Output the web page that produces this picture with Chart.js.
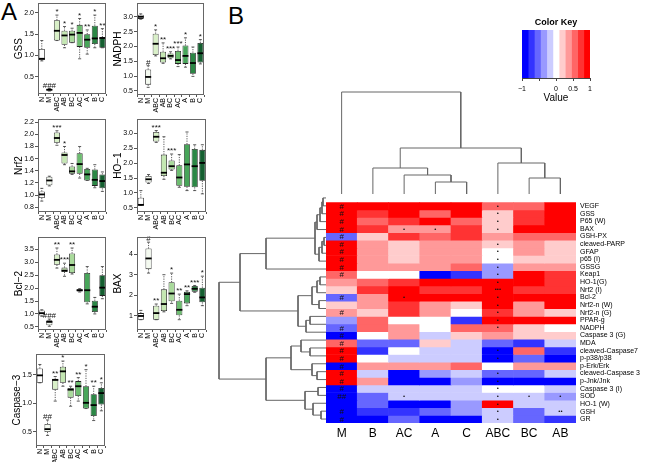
<!DOCTYPE html>
<html><head><meta charset="utf-8">
<script src="https://cdn.jsdelivr.net/npm/chart.js@4.4.1/dist/chart.umd.min.js"></script>
<style>
body{margin:0;width:650px;height:462px;background:#fff;position:relative;overflow:hidden;font-family:'Liberation Sans',Arial,sans-serif;}
.lab{position:absolute;font-size:24px;line-height:1;color:#000;}
</style></head><body>
<div class="lab" style="left:1px;top:0px">A</div>
<div class="lab" style="left:228px;top:4px">B</div>
<script>
// ---------------- DATA ----------------
const cats = ['N','M','ABC','AB','BC','AC','A','B','C'];
const boxFill = ['#ffffff','#f4faf0','#d9f0c8','#c4e7b2','#a9da9b','#6dbd70','#48a65a','#2b8745','#145f30'];

const gssLo  = [0.87,0.16,1.35,1.18,1.30,0.92,1.03,1.18,1.18];
const gssQ1  = [0.89,0.17,1.35,1.25,1.30,1.20,1.18,1.27,1.18];
const gssMed = [0.92,0.19,1.58,1.47,1.49,1.53,1.37,1.40,1.41];
const gssQ3  = [1.15,0.21,1.83,1.58,1.58,1.72,1.50,1.70,1.43];
const gssHi  = [1.35,0.22,1.95,1.68,1.64,1.87,1.60,1.95,1.63];
const gssSig = ['','###','*','*','*','*','**','*','**'];
const gssTicks = [0.5,1.0,1.5,2.0];

const nadLo  = [2.92,0.62,1.68,1.43,1.58,1.32,1.30,0.99,1.41];
const nadQ1  = [2.93,0.71,1.71,1.46,1.60,1.41,1.41,1.08,1.46];
const nadMed = [3.00,0.97,2.09,1.60,1.68,1.54,1.68,1.44,1.77];
const nadQ3  = [3.07,1.22,2.43,1.82,1.76,1.85,2.03,1.79,2.12];
const nadHi  = [3.10,1.35,2.56,2.12,1.82,1.98,2.29,1.98,2.23];
const nadSig = ['','#','*','**','***','***','*','','*'];
const nadTicks = [0.5,1.0,1.5,2.0,2.5,3.0];

const nrfLo  = [0.90,1.15,1.82,1.50,1.34,1.28,1.24,1.12,1.06];
const nrfQ1  = [0.95,1.16,1.86,1.52,1.35,1.35,1.24,1.15,1.11];
const nrfMed = [1.01,1.24,1.94,1.66,1.39,1.51,1.34,1.25,1.23];
const nrfQ3  = [1.06,1.30,2.03,1.70,1.47,1.69,1.43,1.42,1.34];
const nrfHi  = [1.11,1.31,2.06,1.80,1.52,1.80,1.44,1.50,1.38];
const nrfSig = ['','','***','*','','','','',''];
const nrfTicks = [0.8,1.0,1.2,1.4,1.6,1.8,2.0,2.2];

const hoLo  = [0.58,1.32,2.70,1.46,1.76,1.19,1.08,1.08,0.97];
const hoQ1  = [0.58,1.35,2.73,1.57,1.79,1.24,1.21,1.19,1.41];
const hoMed = [0.60,1.46,2.89,1.68,1.90,1.52,1.96,1.90,2.01];
const hoQ3  = [0.84,1.57,3.05,2.29,2.09,1.93,2.64,2.48,2.45];
const hoHi  = [1.08,1.62,3.10,2.89,2.31,2.29,3.05,2.62,2.62];
const hoSig = ['','','***','','***','','','',''];
const hoTicks = [0.5,1.0,1.5,2.0,2.5,3.0];

const bclLo  = [0.91,0.52,2.78,2.46,2.55,1.85,1.39,1.00,1.59];
const bclQ1  = [0.94,0.56,2.91,2.63,2.59,1.87,1.45,1.07,1.70];
const bclMed = [1.03,0.69,3.10,2.68,2.90,1.92,1.92,1.28,2.02];
const bclQ3  = [1.13,0.75,3.31,2.80,3.35,1.96,2.59,1.51,2.50];
const bclHi  = [1.16,0.80,3.56,2.97,3.56,1.98,2.84,1.64,2.84];
const bclSig = ['','###','**','***','**','','','',''];
const bclTicks = [0.5,1.0,1.5,2.0,2.5,3.0,3.5];

const baxLo  = [0.82,3.08,0.82,1.20,1.61,0.82,1.50,2.15,1.50];
const baxQ1  = [0.82,3.27,0.82,1.24,1.71,1.03,1.61,2.18,1.66];
const baxMed = [1.00,3.79,1.14,1.58,2.09,1.30,2.06,2.32,1.90];
const baxQ3  = [1.14,4.27,1.50,2.29,2.64,1.74,2.17,2.45,2.37];
const baxHi  = [1.27,4.58,1.58,3.00,3.08,2.06,2.22,2.48,2.93];
const baxSig = ['','#','**','','*','**','**','***','*'];
const baxTicks = [1,2,3,4];

const casLo  = [1.36,0.44,1.04,1.30,0.95,1.04,0.91,0.70,0.87];
const casQ1  = [1.36,0.50,1.24,1.36,1.10,1.13,0.91,0.78,0.98];
const casMed = [1.49,0.55,1.41,1.56,1.24,1.30,1.01,0.97,1.18];
const casQ3  = [1.61,0.64,1.43,1.64,1.27,1.39,1.30,1.16,1.27];
const casHi  = [1.68,0.71,1.47,1.74,1.30,1.45,1.59,1.30,1.36];
const casSig = ['','##','**','*','**','**','*','**','*'];
const casTicks = [0.5,1.0,1.5];

// heatmap
const hmCols = ['M','B','AC','A','C','ABC','BC','AB'];
const hmRows = ['VEGF','GSS','P65 (W)','BAX','GSH-PX','cleaved-PARP','GFAP','p65 (I)','GSSG','Keap1','HO-1(G)','Nrf2 (I)','Bcl-2','Nrf2-n (W)','Nrf2-n (G)','PPAR-g','NADPH','Caspase 3 (G)','MDA','cleaved-Caspase7','p-p38/p38','p-Erk/Erk','cleaved-Caspase 3','p-Jnk/Jnk','Caspase 3 (I)','SOD','HO-1 (W)','GSH','GR'];
const hmValues = [
 [1,1,1,1,1,0.6,0.6,1],
 [1,0.8,1,0.6,1,0.25,0.8,1],
 [1,0.6,0.8,1,0.6,0.25,0.8,1],
 [1,0.8,0.45,0.45,0.8,0.25,1,1],
 [-0.6,0.25,0.8,0.6,0.8,0.45,0.6,0.6],
 [1,0.45,0.25,0.45,0.45,0.25,0.45,0.25],
 [1,0.45,0.25,0.45,0.45,0,0.45,0.25],
 [1,0.45,0.25,0.45,0.45,0,0.25,0.25],
 [1,0.45,0.45,0.45,0.6,-0.45,0.45,0.45],
 [0.6,0,0,-1,-0.8,-0.45,1,0.8],
 [0.45,0.6,0.8,1,1,1,1,0.8],
 [0.25,0.8,1,0.8,0.8,1,0.8,0.8],
 [-0.6,0.45,1,1,1,1,1,1],
 [0.25,0.45,0.8,0.45,0.25,1,0.45,1],
 [0.45,0.25,0.8,0.45,0,0.8,0.45,0.25],
 [-0.45,0.6,0,0,-0.8,1,1,1],
 [-0.6,0.6,0.45,0,0.6,0.6,0.25,0],
 [-1,0,0.45,-0.25,0.25,0.45,0.25,0.25],
 [0.6,-0.6,-0.6,0.25,-0.25,-0.6,-0.8,-0.25],
 [1,-0.8,0,-0.25,-0.25,-1,0.6,-0.8],
 [1,0,-0.25,-0.25,-0.25,-1,-0.6,-1],
 [-1,0.45,0.45,0.45,0.6,0,0.45,0.45],
 [1,-0.25,-1,-0.45,-0.25,-0.6,-0.6,-0.25],
 [1,0.45,-1,-1,-0.45,-1,-1,-1],
 [-1,-0.25,-0.25,-0.25,-0.25,0,0,-0.25],
 [-1,-0.6,-0.25,-0.25,-0.25,-0.25,-0.25,-0.45],
 [-1,-0.6,-1,-1,-0.45,1,-0.25,-0.25],
 [-1,-0.8,-0.8,-0.6,-0.45,-0.25,-0.6,-0.25],
 [-1,-1,-0.6,-1,-1,-0.25,-0.6,-0.8]
];
const hmMarks = [
 ['#','','','','','•','',''],['#','','','','','•','',''],['#','','','','','•','',''],['#','','•','•','','•','',''],
 ['#','','','','','','',''],['#','','','','','•','',''],['#','','','','','•','',''],['#','','','','','•','',''],
 ['#','','','','','•','',''],['#','','','','','•','',''],['','','','','','•','',''],['','','','','','•••','',''],
 ['#','','•','','','•','',''],['','','','','','•','',''],['#','','','','','•','',''],['','','','','','•','',''],
 ['#','','','','','•','',''],['#','','','','','','',''],['#','','','','','','',''],['#','','','','','•','',''],
 ['#','','','','','•','',''],['#','','','','','','',''],['#','','','','','•','',''],['#','','','','','•','',''],
 ['#','','','','','•','',''],['##','','•','','','•','•','•'],['','','','','','•','',''],['#','','','','','•','','••'],
 ['#','','','','','•','','']
];
const keyColors = ['#0000ff','#3333ff','#6666ff','#9999ff','#ccccff','#ffffff','#ffcccc','#ff9999','#ff6666','#ff3333','#ff0000'];
const keyTicks = [-1,-0.5,0,0.5,1];
const keyTickLabels = ['\u22121','','0','0.5','1'];

// dendrograms (R hclust style: negative = leaf, positive = merge index)
const colMerge = [[-4,-5],[-3,1],[-2,2],[-7,-8],[-6,4],[3,5],[-1,6]];
const colHeight = [12,19,26,16,31,46,102];
const rowMerge = [[-1,-2],[1,-3],[2,-4],[-6,-7],[4,-8],[5,-9],[3,-5],[7,6],[8,-10],
  [-11,-12],[10,-13],[-14,-15],[11,12],[-16,-17],[14,-18],[13,15],[9,16],
  [-20,-21],[-19,18],[-23,-24],[-22,20],[19,21],[-25,-26],[-28,-29],[-27,24],[23,25],[22,26],[17,27]];
const rowHeight = [3,4,6,2,4,7,9,11,60,6,9,7,14,16,20,28,86,16,25,9,14,35,8,5,13,21,60,107];

// ---------------- HELPERS ----------------
const FONT = "'Liberation Sans', Arial, sans-serif";
Chart.defaults.font.family = FONT;
Chart.defaults.color = '#000';
function mk(l,t,w,h){const c=document.createElement('canvas');c.width=w;c.height=h;c.style.cssText=`position:absolute;left:${l}px;top:${t}px;width:${w}px;height:${h}px`;document.body.appendChild(c);return c;}
const framePlugin={id:'frame',afterDraw(ch){const a=ch.chartArea,c=ch.ctx;c.save();c.strokeStyle='#666';c.lineWidth=1;c.strokeRect(Math.round(a.left)+0.5,Math.round(a.top)+0.5,Math.round(a.right-a.left)-1,Math.round(a.bottom-a.top)-1);c.restore();}};

function boxChart(fr,title,lo,q1,med,q3,hi,sig,ticks,dec){
  const padL=40,padB=24,padT=3,padR=4;
  const cv=mk(fr.l-padL,fr.t-padT,fr.r-fr.l+padL+padR,fr.b-fr.t+padT+padB);
  const extras={id:'boxExtras',afterDatasetsDraw(ch){
    const c=ch.ctx,y=ch.scales.y,meta=ch.getDatasetMeta(0);
    c.save();
    meta.data.forEach((bar,i)=>{
      const cx=bar.x,w=bar.width;
      const yq1=y.getPixelForValue(q1[i]),yq3=y.getPixelForValue(q3[i]),ylo=y.getPixelForValue(lo[i]),yhi=y.getPixelForValue(hi[i]),ym=y.getPixelForValue(med[i]);
      c.strokeStyle='#333';c.lineWidth=0.8;c.setLineDash([1.2,1.2]);
      c.beginPath();c.moveTo(cx,yq3);c.lineTo(cx,yhi);c.moveTo(cx,yq1);c.lineTo(cx,ylo);c.stroke();
      c.setLineDash([]);
      c.beginPath();c.moveTo(cx-w/4,yhi);c.lineTo(cx+w/4,yhi);c.moveTo(cx-w/4,ylo);c.lineTo(cx+w/4,ylo);c.stroke();
      c.strokeStyle='#000';c.lineWidth=1.8;c.beginPath();c.moveTo(cx-w/2,ym);c.lineTo(cx+w/2,ym);c.stroke();
      if(sig[i]){c.fillStyle='#111';c.font='8px '+FONT;c.textAlign='center';c.textBaseline='bottom';c.fillText(sig[i],cx,yhi+1);}
    });
    c.restore();
  }};
  new Chart(cv,{type:'bar',
    data:{labels:cats,datasets:[{data:q1.map((v,i)=>[v,q3[i]]),backgroundColor:boxFill,borderColor:'#222',borderWidth:0.8,borderSkipped:false,barPercentage:0.8,categoryPercentage:1}]},
    options:{responsive:false,animation:false,layout:{padding:{top:padT,right:padR,left:0,bottom:0}},
      plugins:{legend:{display:false},tooltip:{enabled:false}},
      scales:{
        x:{grid:{display:true,drawOnChartArea:false,drawTicks:true,tickLength:2,color:'#555'},border:{display:false},
           ticks:{font:{size:7},maxRotation:90,minRotation:90,padding:1,autoSkip:false},afterFit:s=>{s.height=padB;}},
        y:{min:fr.min,max:fr.max,afterBuildTicks:s=>{s.ticks=ticks.map(v=>({value:v}));},
           ticks:{font:{size:7},padding:1,callback:v=>Number(v).toFixed(dec)},
           grid:{drawOnChartArea:false,tickLength:3,color:'#555'},border:{display:false},
           title:{display:true,text:title,font:{size:10},padding:{top:15,bottom:0}},
           afterFit:s=>{s.width=padL;}}
      }},
    plugins:[framePlugin,extras]});
}

boxChart({l:38,r:108,t:1,b:94,min:0.09,max:2.23},'GSS',gssLo,gssQ1,gssMed,gssQ3,gssHi,gssSig,gssTicks,1);
boxChart({l:137,r:206,t:1,b:95,min:0.36,max:3.46},'NADPH',nadLo,nadQ1,nadMed,nadQ3,nadHi,nadSig,nadTicks,1);
boxChart({l:38,r:108,t:117,b:212,min:0.72,max:2.25},'Nrf2',nrfLo,nrfQ1,nrfMed,nrfQ3,nrfHi,nrfSig,nrfTicks,1);
boxChart({l:137,r:208,t:117,b:212,min:0.36,max:3.48},'HO\u22121',hoLo,hoQ1,hoMed,hoQ3,hoHi,hoSig,hoTicks,1);
boxChart({l:38,r:108,t:235,b:330,min:0.375,max:3.98},'Bcl\u22122',bclLo,bclQ1,bclMed,bclQ3,bclHi,bclSig,bclTicks,1);
boxChart({l:137,r:208,t:235,b:330,min:0.32,max:4.82},'BAX',baxLo,baxQ1,baxMed,baxQ3,baxHi,baxSig,baxTicks,0);
boxChart({l:36,r:107,t:352,b:446,min:0.255,max:1.86},'Caspase\u22123',casLo,casQ1,casMed,casQ3,casHi,casSig,casTicks,1);

// ---------------- HEATMAP ----------------
function valColor(v){let k=Math.floor((v+1)/2*keyColors.length);k=Math.max(0,Math.min(keyColors.length-1,k));return keyColors[k];}
const HM={l:326,t:194,w:250,h:229};
const hmCv=mk(HM.l,HM.t,324,268);
const hmMarksPlugin={id:'hmMarks',afterDatasetsDraw(ch){
  const c=ch.ctx,x=ch.scales.x,y=ch.scales.y;c.save();c.fillStyle='#111';c.textAlign='center';c.textBaseline='middle';
  hmMarks.forEach((row,r)=>row.forEach((m,ci)=>{if(!m)return;
    c.font=(m[0]==='#'?'8px ':'6px ')+FONT;
    c.fillText(m,x.getPixelForValue(ci),y.getPixelForValue(r+0.5)+(m[0]==='#'?0.5:0));}));
  c.restore();}};
new Chart(hmCv,{type:'bar',
  data:{labels:hmCols,datasets:hmRows.map((name,r)=>({label:name,data:hmCols.map(()=>[r,r+1]),backgroundColor:hmValues[r].map(valColor),borderWidth:0,grouped:false,barPercentage:1,categoryPercentage:1}))},
  options:{responsive:false,animation:false,layout:{padding:0},
    plugins:{legend:{display:false},tooltip:{enabled:false}},
    scales:{
      x:{grid:{display:false,drawTicks:false},border:{display:false},ticks:{font:{size:12},padding:3},afterFit:s=>{s.height=268-HM.h;}},
      y:{display:false,min:0,max:hmRows.length,reverse:true},
      y2:{type:'category',labels:hmRows,position:'right',offset:true,grid:{display:false,drawTicks:false},border:{display:false},
          ticks:{font:{size:7},padding:4,autoSkip:false},afterFit:s=>{s.width=324-HM.w;}}
    }},
  plugins:[hmMarksPlugin]});

// ---------------- DENDROGRAMS ----------------
function dendro(merge,height,leafPos){
  const pos=[],hs=[],out=[];
  const get=k=>k<0?{p:leafPos(-k-1),h:0}:{p:pos[k-1],h:hs[k-1]};
  merge.forEach(([a,b],i)=>{const A=get(a),B=get(b),h=height[i];pos[i]=(A.p+B.p)/2;hs[i]=h;out.push([A,B,h]);});
  return out;
}
const lineDs=pts=>({data:pts,showLine:true,borderColor:'#666',borderWidth:1,pointRadius:0,tension:0,clip:false});
// rows (left)
const rowSegs=dendro(rowMerge,rowHeight,i=>i+0.5);
new Chart(mk(210,HM.t,HM.l-210,HM.h),{type:'scatter',
  data:{datasets:rowSegs.map(([A,B,h])=>lineDs([{x:A.h,y:A.p},{x:h,y:A.p},{x:h,y:B.p},{x:B.h,y:B.p}]))},
  options:{responsive:false,animation:false,layout:{padding:0},plugins:{legend:{display:false},tooltip:{enabled:false}},
    scales:{x:{display:false,min:0,max:HM.l-210,reverse:true},y:{display:false,min:0,max:hmRows.length,reverse:true}}}});
// columns (top)
const colSegs=dendro(colMerge,colHeight,i=>i+0.5);
new Chart(mk(HM.l,84,HM.w,HM.t-84),{type:'scatter',
  data:{datasets:colSegs.map(([A,B,h])=>lineDs([{x:A.p,y:A.h},{x:A.p,y:h},{x:B.p,y:h},{x:B.p,y:B.h}]))},
  options:{responsive:false,animation:false,layout:{padding:0},plugins:{legend:{display:false},tooltip:{enabled:false}},
    scales:{x:{display:false,min:0,max:hmCols.length},y:{display:false,min:0,max:HM.t-84}}}});

// ---------------- COLOR KEY ----------------
const nK=keyColors.length;
new Chart(mk(510,10,95,94),{type:'bar',
  data:{labels:['key'],datasets:keyColors.map((col,k)=>({data:[[-1+2*k/nK,-1+2*(k+1)/nK]],backgroundColor:col,borderWidth:0,grouped:false,barPercentage:1,categoryPercentage:1}))},
  options:{indexAxis:'y',responsive:false,animation:false,layout:{padding:{left:12,right:15,top:0,bottom:0}},
    plugins:{legend:{display:false},tooltip:{enabled:false},
      title:{display:true,text:'Color Key',font:{size:9,weight:'bold'},padding:{top:7,bottom:2.2},color:'#000'}},
    scales:{
      y:{display:false},
      x:{min:-1,max:1,afterBuildTicks:s=>{s.ticks=keyTicks.map(v=>({value:v}));},
         ticks:{font:{size:7},padding:4,callback:(v,i)=>keyTickLabels[i]},
         grid:{drawOnChartArea:false,tickLength:3,color:'#444'},border:{display:true,color:'#444'},
         title:{display:true,text:'Value',font:{size:10},padding:{top:0,bottom:0}},
         afterFit:s=>{s.height=26;}}
    }}});
</script></body></html>
